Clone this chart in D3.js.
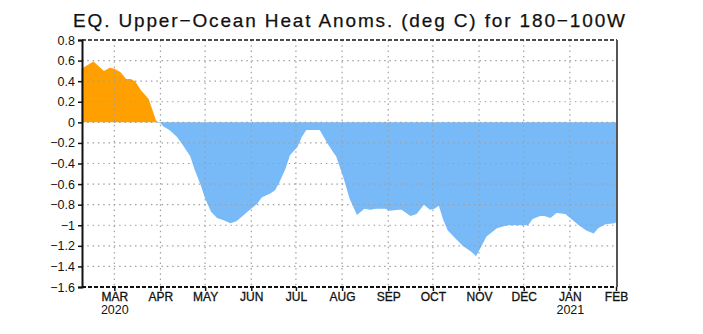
<!DOCTYPE html>
<html>
<head>
<meta charset="utf-8">
<script src="https://cdn.jsdelivr.net/npm/d3@7"></script>
<style>
  html, body { margin: 0; padding: 0; background: #fff; }
  svg { display: block; }
  text { font-family: "Liberation Sans", Arial, sans-serif; fill: #111; }
</style>
</head>
<body>
<svg id="chart" width="703" height="334"></svg>
<script>
// Upper-ocean heat content anomaly, 180-100W, daily-ish samples
const dates = [
  "2020-02-08","2020-02-16","2020-02-23","2020-02-27","2020-03-01","2020-03-05",
  "2020-03-09","2020-03-12","2020-03-15","2020-03-19","2020-03-24","2020-03-29",
  "2020-03-30","2020-04-01","2020-04-03","2020-04-07","2020-04-12","2020-04-16",
  "2020-04-21","2020-04-24","2020-04-28","2020-05-01","2020-05-05","2020-05-09",
  "2020-05-13","2020-05-18","2020-05-22","2020-05-27","2020-05-31","2020-06-05",
  "2020-06-08","2020-06-14","2020-06-17","2020-06-20","2020-06-24","2020-06-27",
  "2020-07-02","2020-07-05","2020-07-08","2020-07-17","2020-07-22","2020-07-26",
  "2020-07-28","2020-08-02","2020-08-06","2020-08-11","2020-08-16","2020-08-20",
  "2020-08-24","2020-08-30","2020-09-02","2020-09-08","2020-09-10","2020-09-16",
  "2020-09-20","2020-09-25","2020-09-29","2020-10-02","2020-10-05","2020-10-08",
  "2020-10-11","2020-10-17","2020-10-21","2020-10-27","2020-10-30","2020-11-02",
  "2020-11-06","2020-11-13","2020-11-20","2020-11-29","2020-12-04","2020-12-07",
  "2020-12-12","2020-12-15","2020-12-19","2020-12-23","2020-12-29","2021-01-02",
  "2021-01-07","2021-01-12","2021-01-17","2021-01-20","2021-01-25","2021-01-31",
  "2021-02-01"
];
const anomalies = [
   0.52, 0.59, 0.50, 0.53, 0.52, 0.49,
   0.42, 0.42, 0.40, 0.31, 0.23, 0.02,
   0.00,-0.01,-0.04,-0.075,-0.14,-0.22,
  -0.33,-0.46,-0.61,-0.74,-0.87,-0.93,
  -0.95,-0.98,-0.96,-0.90,-0.85,-0.79,
  -0.73,-0.69,-0.66,-0.58,-0.45,-0.32,
  -0.24,-0.14,-0.075,-0.075,-0.20,-0.29,
  -0.33,-0.54,-0.74,-0.90,-0.84,-0.85,
  -0.84,-0.84,-0.86,-0.85,-0.85,-0.91,
  -0.89,-0.80,-0.85,-0.84,-0.81,-0.95,
  -1.05,-1.14,-1.20,-1.26,-1.30,-1.22,
  -1.11,-1.03,-1.00,-1.00,-1.00,-0.94,
  -0.91,-0.91,-0.93,-0.88,-0.89,-0.94,
  -1.00,-1.05,-1.08,-1.03,-0.99,-0.98,
  -0.97
];
const yTicks = [0.8,0.6,0.4,0.2,0,-0.2,-0.4,-0.6,-0.8,-1,-1.2,-1.4,-1.6];
const monthTicks = ["2020-03-01","2020-04-01","2020-05-01","2020-06-01","2020-07-01",
  "2020-08-01","2020-09-01","2020-10-01","2020-11-01","2020-12-01","2021-01-01","2021-02-01"];
const monthNames = ["MAR","APR","MAY","JUN","JUL","AUG","SEP","OCT","NOV","DEC","JAN","FEB"];
const yearLabels = {"2020-03-01": "2020", "2021-01-01": "2021"};
const title = "EQ. Upper\u2212Ocean Heat Anoms. (deg C) for 180\u2212100W";

const parse = d3.utcParse("%Y-%m-%d");
const data = dates.map((d, i) => ({ t: parse(d), v: anomalies[i] }));

const plotL = 82, plotR = 617, plotT = 40, plotB = 287;
const DAY = 864e5;
const x = d3.scaleUtc()
  .domain([new Date(parse("2020-03-01").getTime() - 21.7 * DAY),
           new Date(parse("2021-02-01").getTime() + 0.67 * DAY)])
  .range([plotL, plotR]);
const y = d3.scaleLinear().domain([-1.6, 0.8]).range([plotB, plotT]);

const svg = d3.select("#chart");

// positive and negative fills
const warm = d3.area().x(d => x(d.t)).y0(y(0)).y1(d => y(Math.max(0, d.v)));
const cool = d3.area().x(d => x(d.t)).y0(y(0)).y1(d => y(Math.min(0, d.v)));
svg.append("path").datum(data).attr("d", warm).attr("fill", "rgb(255,160,0)");
svg.append("path").datum(data).attr("d", cool).attr("fill", "rgb(120,185,248)");

// dotted grid over the fills
const grid = svg.append("g").attr("stroke", "#a0a0a0").attr("stroke-width", 1.2)
  .attr("stroke-dasharray", "1.5,3.8").attr("fill", "none");
yTicks.filter(v => v > -1.6 && v < 0.8).forEach(v => {
  grid.append("line").attr("x1", plotL).attr("x2", plotR).attr("y1", y(v)).attr("y2", y(v));
});
monthTicks.map(parse).filter(t => x(t) < plotR - 2).forEach(t => {
  grid.append("line").attr("x1", x(t)).attr("x2", x(t)).attr("y1", plotT).attr("y2", plotB);
});

// frame: dashed top and bottom, solid sides
svg.append("line").attr("x1", plotL).attr("x2", plotR).attr("y1", plotT).attr("y2", plotT)
  .attr("stroke", "#111").attr("stroke-width", 1.6).attr("stroke-dasharray", "4,2");
svg.append("line").attr("x1", plotL).attr("x2", plotR).attr("y1", plotB).attr("y2", plotB)
  .attr("stroke", "#111").attr("stroke-width", 1.8).attr("stroke-dasharray", "4,2");
svg.append("line").attr("x1", plotR).attr("x2", plotR).attr("y1", plotT).attr("y2", plotB)
  .attr("stroke", "#555").attr("stroke-width", 2);

// y axis
const yAxis = d3.axisLeft(y).tickValues(yTicks).tickSize(4).tickPadding(3)
  .tickFormat(v => (v < 0 ? "\u2212" : "") + d3.format("")(Math.abs(+v.toFixed(1))));
const ya = svg.append("g").attr("transform", `translate(${plotL},0)`).call(yAxis);
ya.select(".domain").attr("stroke", "#111").attr("stroke-width", 2);
ya.selectAll(".tick line").attr("stroke", "#111").attr("stroke-width", 1.5);
ya.selectAll("text").attr("font-size", 12.5).attr("fill", "#111")
  .attr("font-family", "Liberation Sans, Arial, sans-serif");

// x axis: month starts
const xAxis = d3.axisBottom(x).tickValues(monthTicks.map(parse)).tickSize(4).tickPadding(3)
  .tickFormat((t, i) => monthNames[i]);
const xa = svg.append("g").attr("transform", `translate(0,${plotB})`).call(xAxis);
xa.select(".domain").remove();
xa.selectAll(".tick line").attr("stroke", "#111").attr("stroke-width", 1.5);
xa.selectAll("text").attr("font-size", 12).attr("fill", "#111")
  .attr("font-family", "Liberation Sans, Arial, sans-serif")
  .attr("stroke", "#111").attr("stroke-width", 0.3).attr("dy", "0.6em");
xa.selectAll(".tick").each(function (t, i) {
  const lab = yearLabels[monthTicks[i]];
  if (lab) {
    d3.select(this).append("text").attr("y", 19.5).attr("dy", "0.6em")
      .attr("text-anchor", "middle").attr("font-size", 12.5).attr("fill", "#111")
      .attr("font-family", "Liberation Sans, Arial, sans-serif").text(lab);
  }
});

// title
svg.append("text").attr("x", 349).attr("y", 27).attr("text-anchor", "middle")
  .attr("font-size", 19).attr("textLength", 552).attr("lengthAdjust", "spacing")
  .attr("fill", "#111").attr("stroke", "#111").attr("stroke-width", 0.25).text(title);
</script>
</body>
</html>
